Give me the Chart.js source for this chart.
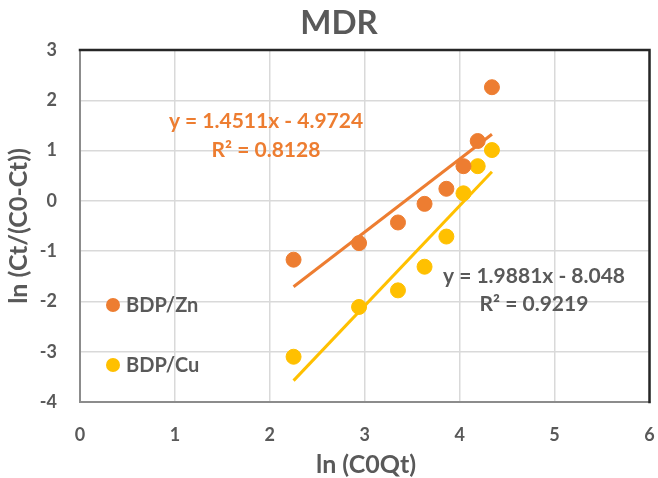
<!DOCTYPE html>
<html>
<head>
<meta charset="utf-8">
<script src="https://cdn.jsdelivr.net/npm/chart.js@4.4.1/dist/chart.umd.min.js"></script>
<style>
  html, body { margin: 0; padding: 0; background: #fff; }
  #wrap { width: 658px; height: 478px; }
</style>
</head>
<body>
<div id="wrap"><canvas id="mdrChart"></canvas></div>
<script>
const lnC0Qt = [2.25, 2.94, 3.35, 3.63, 3.86, 4.04, 4.19, 4.34];
const znValues = [-1.17, -0.84, -0.43, -0.06, 0.24, 0.69, 1.19, 2.26];
const cuValues = [-3.10, -2.11, -1.78, -1.31, -0.71, 0.15, 0.69, 1.01];

// Trendlinien (lineare Regression, wie im Bild angegeben)
const seriesLabels = ["BDP/Zn", "BDP/Cu"];
const slopes = [1.4511, 1.9881];
const intercepts = [-4.9724, -8.048];
const equationTexts = ["y = 1.4511x - 4.9724", "y = 1.9881x - 8.048"];
const r2Texts = ["R\u00b2 = 0.8128", "R\u00b2 = 0.9219"];

const xTicks = [0, 1, 2, 3, 4, 5, 6];
const yTicks = [-4, -3, -2, -1, 0, 1, 2, 3];

const ORANGE = "#ED7D31";
const YELLOW = "#FFC000";
const GREY = "#595959";
const FONT = "Lato, 'Open Sans', sans-serif";

const toPoints = (ys) => lnC0Qt.map((x, i) => ({ x: x, y: ys[i] }));
const trend = (k) => {
  const x0 = lnC0Qt[0], x1 = lnC0Qt[lnC0Qt.length - 1];
  return [
    { x: x0, y: slopes[k] * x0 + intercepts[k] },
    { x: x1, y: slopes[k] * x1 + intercepts[k] }
  ];
};

// Rahmen, Legende und Beschriftungen
const decorPlugin = {
  id: "decor",
  afterDraw(chart) {
    const ctx = chart.ctx;
    const a = chart.chartArea;
    ctx.save();
    // Rahmen
    ctx.lineCap = "square";
    ctx.strokeStyle = "#8c8c8c";
    ctx.lineWidth = 2;
    ctx.beginPath();
    ctx.moveTo(a.left, a.top);
    ctx.lineTo(a.left, a.bottom);
    ctx.lineTo(a.right, a.bottom);
    ctx.stroke();
    ctx.strokeStyle = "#262626";
    ctx.lineWidth = 2.5;
    ctx.beginPath();
    ctx.moveTo(a.left, a.top);
    ctx.lineTo(a.right, a.top);
    ctx.lineTo(a.right, a.bottom);
    ctx.stroke();

    // Titel
    ctx.fillStyle = GREY;
    ctx.textAlign = "center";
    ctx.textBaseline = "middle";
    ctx.font = "bold 33px " + FONT;
    ctx.fillText("MDR", 339, 23);

    // Achsentitel
    ctx.font = "bold 25px " + FONT;
    ctx.fillText("ln (C0Qt)", 366, 465);
    ctx.save();
    ctx.translate(19, 226);
    ctx.rotate(-Math.PI / 2);
    ctx.fillText("ln (Ct/(C0-Ct))", 0, 0);
    ctx.restore();

    // Legende
    const legendY = [305, 365];
    const colors = [ORANGE, YELLOW];
    ctx.textAlign = "left";
    ctx.font = "bold 20px " + FONT;
    legendY.forEach((y, i) => {
      ctx.fillStyle = colors[i];
      ctx.beginPath();
      ctx.arc(113, y, 7, 0, Math.PI * 2);
      ctx.fill();
      ctx.fillStyle = GREY;
      ctx.fillText(seriesLabels[i], 126, y + 1);
    });

    // Gleichungen
    ctx.textAlign = "center";
    ctx.font = "bold 21px " + FONT;
    ctx.fillStyle = ORANGE;
    ctx.fillText(equationTexts[0], 266, 121);
    ctx.fillText(r2Texts[0], 266, 150);
    ctx.fillStyle = GREY;
    ctx.fillText(equationTexts[1], 534, 276);
    ctx.fillText(r2Texts[1], 534, 304);
    ctx.restore();
  }
};

new Chart(document.getElementById("mdrChart"), {
  type: "scatter",
  data: {
    datasets: [
      {
        label: seriesLabels[0],
        data: toPoints(znValues),
        backgroundColor: ORANGE,
        borderColor: ORANGE,
        pointRadius: 7.5,
        pointHoverRadius: 7.5,
        order: 1
      },
      {
        label: seriesLabels[1],
        data: toPoints(cuValues),
        backgroundColor: YELLOW,
        borderColor: YELLOW,
        pointRadius: 7.5,
        pointHoverRadius: 7.5,
        order: 1
      },
      {
        type: "line",
        label: "Trend Zn",
        data: trend(0),
        borderColor: ORANGE,
        borderWidth: 3,
        pointRadius: 0,
        fill: false,
        order: 2
      },
      {
        type: "line",
        label: "Trend Cu",
        data: trend(1),
        borderColor: YELLOW,
        borderWidth: 3,
        pointRadius: 0,
        fill: false,
        order: 2
      }
    ]
  },
  options: {
    responsive: true,
    maintainAspectRatio: false,
    animation: false,
    layout: {
      padding: { top: 50, right: 4, bottom: 0, left: 0 }
    },
    plugins: {
      legend: { display: false },
      title: { display: false },
      tooltip: { enabled: false }
    },
    scales: {
      x: {
        type: "linear",
        min: 0,
        max: 6,
        afterBuildTicks: (s) => { s.ticks = xTicks.map(v => ({ value: v })); },
        afterFit: (s) => { s.height = 76; s.paddingLeft = 0; s.paddingRight = 0; },
        grid: { color: "#d9d9d9", lineWidth: 1.5, drawTicks: false },
        border: { display: false },
        ticks: {
          color: GREY,
          padding: 22,
          font: { family: FONT, size: 18, weight: "bold" }
        }
      },
      y: {
        type: "linear",
        min: -4,
        max: 3,
        afterBuildTicks: (s) => { s.ticks = yTicks.map(v => ({ value: v })); },
        afterFit: (s) => { s.width = 80; s.paddingTop = 0; s.paddingBottom = 0; },
        grid: { color: "#d9d9d9", lineWidth: 1.5, drawTicks: false },
        border: { display: false },
        ticks: {
          color: GREY,
          padding: 23,
          font: { family: FONT, size: 18, weight: "bold" }
        }
      }
    }
  },
  plugins: [decorPlugin]
});
</script>
</body>
</html>
